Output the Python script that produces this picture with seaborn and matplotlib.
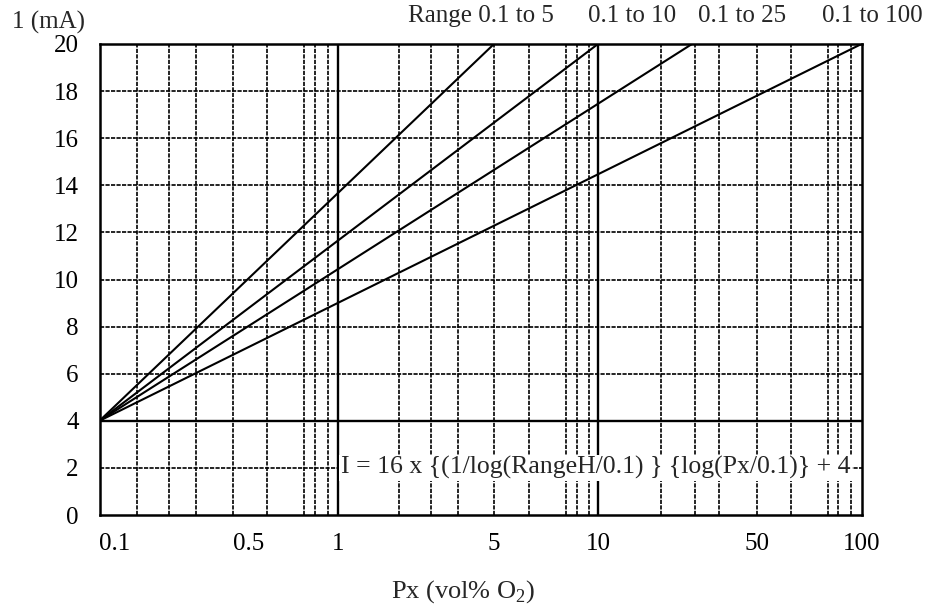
import numpy as np
import pandas as pd
import matplotlib
matplotlib.use('Agg')
import matplotlib.pyplot as plt
import seaborn as sns

# --- data ---
ranges = [5, 10, 25, 100]
range_labels = ['Range 0.1 to 5', '0.1 to 10', '0.1 to 25', '0.1 to 100']
px_low = 0.1
i_low = 4
i_high = 20
x_ticks = [0.1, 0.5, 1, 5, 10, 50, 100]
x_tick_labels = ['0.1', '0.5', '1', '5', '10', '50', '100']
y_ticks = list(range(0, 21, 2))
x_grid_dashed = [0.2, 0.3, 0.4, 0.5, 0.6, 0.7, 0.8, 0.9,
                 2, 3, 4, 5, 6, 7, 8, 9,
                 20, 30, 40, 50, 60, 70, 80, 90]
x_grid_solid = [1, 10]
y_grid_dashed = [2, 6, 8, 10, 12, 14, 16, 18]
formula = 'I = 16 x {(1/log(RangeH/0.1) } {log(Px/0.1)} + 4'

# the paper's x axis is a hand-drawn log paper, not an even log scale:
knot_vals = [0.1, 0.2, 0.3, 0.4, 0.5, 0.6, 0.7, 0.8, 0.9,
             1, 2, 3, 4, 5, 6, 7, 8, 9,
             10, 20, 25, 30, 40, 50, 60, 70, 80, 90, 100]
knot_pix = [99.5, 137, 169, 196, 233, 267, 304, 315, 328,
            338, 399, 431, 458, 494, 529, 566, 577, 589,
            598, 661, 692, 695, 719, 757, 791, 828, 838, 851, 861.5]
k_log = np.log10(knot_vals)
k_frac = (np.array(knot_pix) - 99.5) / (861.5 - 99.5)


def fwd(x):
    x = np.asarray(x, dtype=float)
    return np.interp(np.log10(np.clip(x, 1e-6, None)), k_log, k_frac)


def inv(y):
    return 10 ** np.interp(np.asarray(y, dtype=float), k_frac, k_log)


# two end points per range line
rows = []
for r, lab in zip(ranges, range_labels):
    rows.append({'Px': px_low, 'I': i_low, 'Range': lab})
    rows.append({'Px': r, 'I': i_high, 'Range': lab})
df = pd.DataFrame(rows)

sns.set_style('white')
plt.rcParams['font.family'] = ['Liberation Serif', 'DejaVu Serif']
plt.rcParams['mathtext.fontset'] = 'custom'
plt.rcParams['mathtext.rm'] = 'Liberation Serif'

fig = plt.figure(figsize=(9.32, 6.08), dpi=100)
ax = fig.add_axes([99.5 / 932, 93 / 608, 762 / 932, 471 / 608])
ax.set_xscale('function', functions=(fwd, inv))

# grid
for v in x_grid_dashed:
    ax.axvline(v, color='black', lw=1.2, ls=(0, (2.5, 0.8)), zorder=1)
for v in x_grid_solid:
    ax.axvline(v, color='black', lw=1.7, zorder=1)
for v in y_grid_dashed:
    ax.axhline(v, color='black', lw=1.2, ls=(0, (2.5, 0.8)), zorder=1)
ax.axhline(i_low, color='black', lw=1.7, zorder=1)

sns.lineplot(data=df, x='Px', y='I', hue='Range', units='Range', estimator=None,
             sort=False, palette=['black'] * len(ranges), lw=1.5,
             legend=False, ax=ax, zorder=3)

ax.set_xlim(0.1, 100)
ax.set_ylim(0, 20)
ax.set_xticks(x_ticks)
ax.set_xticklabels(x_tick_labels)
ax.xaxis.set_minor_locator(matplotlib.ticker.NullLocator())
ax.set_yticks(y_ticks)
ax.tick_params(axis='both', length=0, labelsize=18, colors='black')
ax.tick_params(axis='x', pad=13)
ax.tick_params(axis='y', pad=15)
for t in ax.get_xticklabels()[:2]:
    t.set_ha('left')
ax.set_xlabel('')
ax.set_ylabel('')
for s in ax.spines.values():
    s.set_color('black')
    s.set_linewidth(1.8)

ax.annotate(formula, xy=(1, 2), xytext=(2, 0), textcoords='offset points',
            ha='left', va='center', fontsize=18.5, zorder=5,
            bbox=dict(boxstyle='square,pad=0.05', fc='white', ec='none'))

fig.text(12 / 932, 1 - 29 / 608, '1 (mA)', ha='left', va='baseline', fontsize=18)
label_x = [408, 588, 698, 822]
for lab, xp in zip(range_labels, label_x):
    fig.text(xp / 932, 1 - 22 / 608, lab, ha='left', va='baseline', fontsize=18)
fig.text(463 / 932, 1 - 598 / 608, 'Px (vol% O$_2$)', ha='center', va='baseline',
         fontsize=19)

fig.savefig('out.png', dpi=100)
